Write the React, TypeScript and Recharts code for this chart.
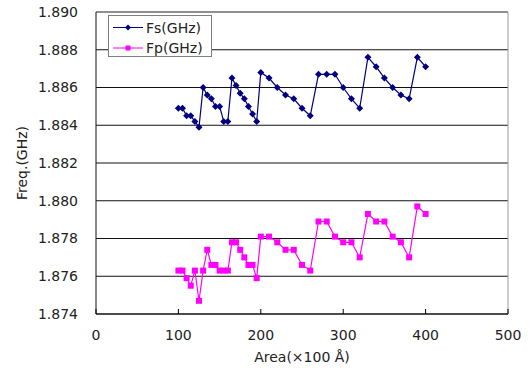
import React from "react";
import {
  LineChart,
  Line,
  XAxis,
  YAxis,
  CartesianGrid,
  Legend,
  ReferenceLine,
} from "recharts";

const AREA = [
  100, 105, 110, 115, 120, 125, 130, 135, 140, 145, 150, 155, 160, 165, 170,
  175, 180, 185, 190, 195, 200, 210, 220, 230, 240, 250, 260, 270, 280, 290,
  300, 310, 320, 330, 340, 350, 360, 370, 380, 390, 400,
];

const FS = [
  1.8849, 1.8849, 1.8845, 1.8845, 1.8842, 1.8839, 1.886, 1.8856, 1.8854,
  1.885, 1.885, 1.8842, 1.8842, 1.8865, 1.8861, 1.8857, 1.8854, 1.885,
  1.8846, 1.8842, 1.8868, 1.8865, 1.886, 1.8856, 1.8854, 1.8849, 1.8845,
  1.8867, 1.8867, 1.8867, 1.886, 1.8854, 1.8849, 1.8876, 1.8871, 1.8865,
  1.886, 1.8856, 1.8854, 1.8876, 1.8871,
];

const FP = [
  1.8763, 1.8763, 1.8759, 1.8755, 1.8763, 1.8747, 1.8763, 1.8774, 1.8766,
  1.8766, 1.8763, 1.8763, 1.8763, 1.8778, 1.8778, 1.8774, 1.877, 1.8766,
  1.8766, 1.8759, 1.8781, 1.8781, 1.8778, 1.8774, 1.8774, 1.8766, 1.8763,
  1.8789, 1.8789, 1.8781, 1.8778, 1.8778, 1.877, 1.8793, 1.8789, 1.8789,
  1.8781, 1.8778, 1.877, 1.8797, 1.8793,
];

const X_TICKS = [0, 100, 200, 300, 400, 500];
const Y_TICKS = [1.874, 1.876, 1.878, 1.88, 1.882, 1.884, 1.886, 1.888, 1.89];

const FS_COLOR = "#000080";
const FP_COLOR = "#ff00ff";
const FONT = "'DejaVu Sans', sans-serif";

const rows = AREA.map((a, i) => ({ area: a, fs: FS[i], fp: FP[i] }));

function Diamond(props: any) {
  const { cx, cy, r = 3.5 } = props;
  if (cx == null || cy == null) return null;
  return (
    <polygon
      points={`${cx},${cy - r} ${cx + r},${cy} ${cx},${cy + r} ${cx - r},${cy}`}
      fill={FS_COLOR}
    />
  );
}

function Square(props: any) {
  const { cx, cy, s = 6 } = props;
  if (cx == null || cy == null) return null;
  return <rect x={cx - s / 2} y={cy - s / 2} width={s} height={s} fill={FP_COLOR} />;
}

function XTick(props: any) {
  const { x, y, payload } = props;
  return (
    <g>
      <line x1={x} x2={x} y1={y} y2={y - 5} stroke="#000" />
      <text x={x} y={y + 26} textAnchor="middle" fontSize={14} fontFamily={FONT} fill="#222">
        {payload.value}
      </text>
    </g>
  );
}

function LegendBox() {
  const items = [
    { name: "Fs(GHz)", color: FS_COLOR, kind: "d" },
    { name: "Fp(GHz)", color: FP_COLOR, kind: "s" },
  ];
  return (
    <svg width={104} height={42} style={{ display: "block" }}>
      <rect x={0.5} y={0.5} width={103} height={41} fill="#fff" stroke="#808080" />
      {items.map((it, i) => {
        const cy = 12.5 + i * 20.5;
        return (
          <g key={it.name}>
            <line x1={5} x2={35} y1={cy} y2={cy} stroke={it.color} strokeWidth={1} />
            {it.kind === "d" ? (
              <polygon points={`20,${cy - 3} 23,${cy} 20,${cy + 3} 17,${cy}`} fill={it.color} />
            ) : (
              <rect x={17.5} y={cy - 2.5} width={5} height={5} fill={it.color} />
            )}
            <text x={38} y={cy + 5} fontSize={14} fontFamily={FONT} fill="#222">
              {it.name}
            </text>
          </g>
        );
      })}
    </svg>
  );
}

export default function App() {
  return (
    <div style={{ position: "absolute", left: 0, top: 0, background: "#fff" }}>
      <LineChart
        width={531}
        height={368}
        data={rows}
        margin={{ top: 12, right: 23, bottom: 0, left: 0 }}
      >
        <CartesianGrid vertical={false} stroke="#111" strokeWidth={1} />
        <XAxis
          dataKey="area"
          type="number"
          domain={[0, 500]}
          ticks={X_TICKS}
          height={54}
          stroke="#111"
          tickLine={false}
          tickSize={0}
          tickMargin={0}
          tick={<XTick />}
          label={{
            value: "Area(×100 Å)",
            position: "insideBottom",
            offset: 6,
            fontSize: 14,
            fontFamily: FONT,
            fill: "#222",
          }}
        />
        <YAxis
          type="number"
          domain={[1.874, 1.89]}
          ticks={Y_TICKS}
          width={96}
          stroke="#111"
          tickLine={false}
          tickSize={6}
          tickMargin={12}
          tickFormatter={(v: number) => v.toFixed(3)}
          tick={{ fontSize: 14, fontFamily: FONT, fill: "#222" }}
          label={{
            value: "Freq.(GHz)",
            angle: -90,
            position: "insideLeft",
            offset: 22,
            fontSize: 14,
            fontFamily: FONT,
            fill: "#222",
            style: { textAnchor: "middle" },
          }}
        />
        <ReferenceLine y={1.89} stroke="#999" />
        <ReferenceLine x={500} stroke="#999" />
        <Legend
          layout="vertical"
          verticalAlign="middle"
          align="center"
          content={() => <LegendBox />}
          wrapperStyle={{ left: 108, top: 15, width: 104, height: 42 }}
        />
        <Line
          dataKey="fs"
          name="Fs(GHz)"
          stroke={FS_COLOR}
          strokeWidth={1.2}
          isAnimationActive={false}
          dot={(p: any) => <Diamond key={`fs-${p.index}`} cx={p.cx} cy={p.cy} />}
          activeDot={false}
        />
        <Line
          dataKey="fp"
          name="Fp(GHz)"
          stroke={FP_COLOR}
          strokeWidth={1.2}
          isAnimationActive={false}
          dot={(p: any) => <Square key={`fp-${p.index}`} cx={p.cx} cy={p.cy} />}
          activeDot={false}
        />
      </LineChart>
    </div>
  );
}
